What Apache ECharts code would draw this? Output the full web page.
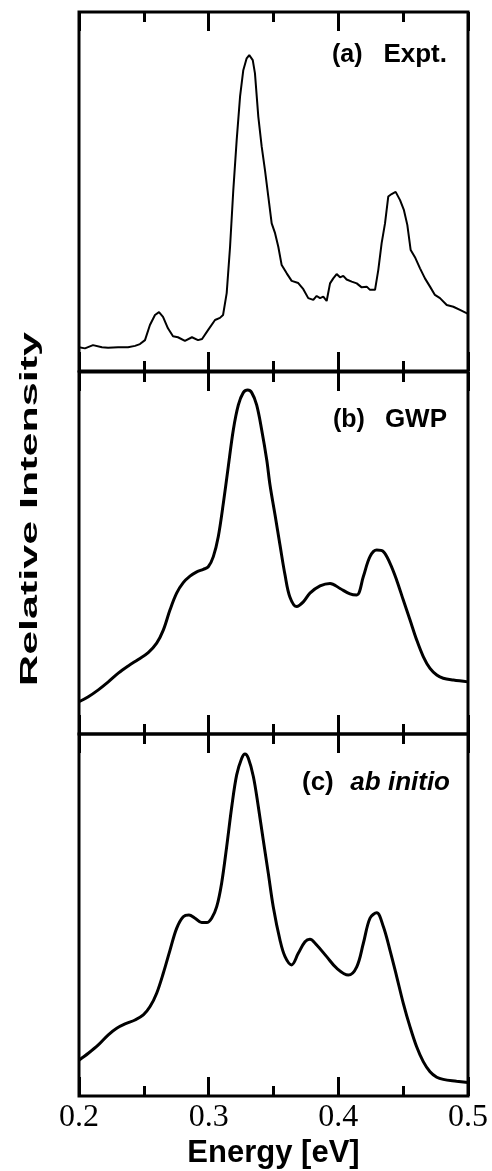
<!DOCTYPE html>
<html>
<head>
<meta charset="utf-8">
<script src="https://cdn.jsdelivr.net/npm/echarts@6/dist/echarts.min.js"></script>
<style>html,body{margin:0;padding:0;background:#fff;}#chart{width:492px;height:1171px;}</style>
</head>
<body>
<div id="chart"></div>
<script>
// ---- data (energy in eV, relative intensity in arbitrary units 0..100 per panel) ----
const xTickLabels = ['0.2', '0.3', '0.4', '0.5'];
const panelLabels = ['(a)', '(b)', '(c)'];
const panelNames = ['Expt.', 'GWP', 'ab initio'];

const energyA = [0.2000, 0.2046, 0.2108, 0.2177, 0.2224, 0.2301, 0.2378, 0.2432, 0.2470, 0.2509, 0.2547, 0.2586, 0.2617, 0.2648, 0.2686, 0.2725, 0.2763, 0.2817, 0.2871, 0.2918, 0.2949, 0.2995, 0.3049, 0.3087, 0.3111, 0.3139, 0.3165, 0.3190, 0.3216, 0.3242, 0.3267, 0.3293, 0.3313, 0.3340, 0.3357, 0.3383, 0.3409, 0.3434, 0.3460, 0.3486, 0.3512, 0.3537, 0.3563, 0.3602, 0.3640, 0.3691, 0.3730, 0.3768, 0.3807, 0.3833, 0.3859, 0.3884, 0.3910, 0.3936, 0.3961, 0.3987, 0.4013, 0.4038, 0.4064, 0.4103, 0.4142, 0.4180, 0.4219, 0.4244, 0.4283, 0.4308, 0.4334, 0.4360, 0.4385, 0.4411, 0.4442, 0.4476, 0.4506, 0.4532, 0.4558, 0.4591, 0.4630, 0.4668, 0.4707, 0.4745, 0.4784, 0.4836, 0.4887, 0.4938, 0.5000];
const intensityA = [6.6, 6.3, 7.2, 6.6, 6.5, 6.6, 6.6, 7.0, 7.5, 8.6, 12.8, 15.6, 16.4, 15.1, 11.9, 9.7, 9.4, 8.4, 9.4, 8.6, 8.9, 11.4, 14.2, 14.8, 15.6, 21.7, 34.6, 50.4, 64.3, 76.4, 83.8, 87.1, 88.0, 86.6, 82.9, 70.8, 62.5, 56.0, 48.6, 41.1, 38.4, 34.6, 29.5, 27.2, 25.1, 24.5, 22.8, 20.3, 19.8, 20.9, 20.3, 20.7, 19.5, 24.4, 25.8, 27.0, 26.1, 26.5, 25.5, 24.9, 24.4, 23.3, 23.5, 22.6, 22.6, 28.1, 35.6, 41.1, 48.6, 49.3, 49.9, 47.6, 44.8, 40.7, 33.7, 31.7, 28.6, 25.8, 23.5, 21.2, 20.3, 18.4, 17.9, 17.0, 15.9];

const energyB = [0.2000, 0.2072, 0.2149, 0.2226, 0.2303, 0.2380, 0.2457, 0.2534, 0.2599, 0.2650, 0.2702, 0.2753, 0.2804, 0.2856, 0.2908, 0.2959, 0.2997, 0.3036, 0.3074, 0.3113, 0.3151, 0.3190, 0.3229, 0.3267, 0.3301, 0.3332, 0.3370, 0.3409, 0.3448, 0.3473, 0.3512, 0.3550, 0.3589, 0.3627, 0.3679, 0.3730, 0.3781, 0.3859, 0.3936, 0.4013, 0.4090, 0.4142, 0.4193, 0.4244, 0.4296, 0.4347, 0.4398, 0.4450, 0.4501, 0.4553, 0.4604, 0.4655, 0.4707, 0.4759, 0.4809, 0.4887, 0.5000];
const intensityB = [8.9, 10.3, 12.2, 14.4, 16.8, 18.8, 20.6, 22.5, 25.1, 28.7, 34.3, 38.9, 41.8, 43.6, 44.8, 45.5, 46.2, 49.0, 54.5, 63.7, 73.8, 84.0, 90.9, 94.3, 95.0, 94.3, 90.9, 84.0, 75.7, 68.8, 60.5, 52.2, 43.9, 37.8, 35.2, 36.5, 38.9, 40.9, 41.6, 40.2, 38.7, 38.4, 43.5, 49.0, 50.8, 50.4, 47.2, 42.5, 37.0, 31.5, 26.0, 21.4, 18.1, 16.3, 15.4, 14.9, 14.4];

const energyC = [0.2000, 0.2072, 0.2149, 0.2226, 0.2291, 0.2355, 0.2432, 0.2496, 0.2548, 0.2599, 0.2650, 0.2702, 0.2753, 0.2804, 0.2848, 0.2895, 0.2946, 0.2985, 0.3023, 0.3062, 0.3100, 0.3139, 0.3178, 0.3216, 0.3255, 0.3280, 0.3306, 0.3345, 0.3383, 0.3421, 0.3460, 0.3498, 0.3550, 0.3589, 0.3640, 0.3691, 0.3743, 0.3781, 0.3833, 0.3910, 0.3987, 0.4077, 0.4142, 0.4193, 0.4244, 0.4296, 0.4347, 0.4398, 0.4450, 0.4501, 0.4553, 0.4604, 0.4655, 0.4707, 0.4759, 0.4809, 0.4912, 0.5000];
const intensityC = [9.9, 11.8, 14.1, 16.9, 18.7, 19.9, 21.0, 22.4, 24.7, 28.4, 33.9, 40.3, 46.3, 49.5, 50.0, 49.1, 47.9, 47.9, 49.1, 52.3, 58.8, 68.9, 79.9, 88.7, 93.3, 94.5, 93.3, 88.2, 79.9, 70.7, 61.5, 52.3, 43.1, 38.5, 36.2, 39.4, 42.6, 43.3, 41.7, 38.5, 35.3, 33.4, 35.7, 42.2, 49.1, 50.6, 46.8, 40.3, 33.0, 25.6, 19.1, 13.6, 9.5, 6.7, 5.2, 4.6, 4.1, 3.7];

// ---- build chart ----
const zip = (xs, ys) => xs.map((x, i) => [x, ys[i]]);
const grids = [
  {left: 79, width: 389, top: 12, height: 359},
  {left: 79, width: 389, top: 372, height: 362},
  {left: 79, width: 389, top: 734, height: 362}
];
const black = '#000';
function xAxisFor(gi, pos, showLabels) {
  return {
    type: 'value', gridIndex: gi, position: pos, min: 0.2, max: 0.5, interval: 0.1,
    axisLine: {show: false},
    axisTick: {show: true, inside: true, length: 19, lineStyle: {color: black, width: 3}},
    minorTick: {show: true, splitNumber: 2, length: 10, lineStyle: {color: black, width: 3}},
    splitLine: {show: false}, minorSplitLine: {show: false},
    axisLabel: {
      show: showLabels, margin: 6, color: black, fontFamily: 'Liberation Serif', fontSize: 32,
      formatter: v => xTickLabels[Math.round((v - 0.2) * 10)]
    },
    name: showLabels ? 'Energy [eV]' : '', nameLocation: 'middle', nameGap: 42,
    nameTextStyle: {color: black, fontFamily: 'Liberation Sans', fontWeight: 'bold', fontSize: 31}
  };
}
const xAxes = [], yAxes = [];
grids.forEach((g, i) => {
  xAxes.push(xAxisFor(i, 'bottom', i === 2));
  xAxes.push(xAxisFor(i, 'top', false));
  yAxes.push({type: 'value', gridIndex: i, min: 0, max: 100, show: false});
});
const seriesData = [zip(energyA, intensityA), zip(energyB, intensityB), zip(energyC, intensityC)];
const series = seriesData.map((d, i) => ({
  type: 'line', xAxisIndex: i * 2, yAxisIndex: i, data: d, showSymbol: false, symbol: 'none',
  smooth: i === 0 ? false : 0.35,
  lineStyle: {color: black, width: i === 0 ? 2 : 3}, animation: false
}));

const labelFont = (size, italic) => (italic ? 'italic ' : '') + 'bold ' + size + 'px "Liberation Sans", Arial, sans-serif';
function txt(text, x, y, align, size, italic) {
  return {type: 'text', x: x, y: y, silent: true,
    style: {text: text, font: labelFont(size, italic), fill: black, align: align, verticalAlign: 'middle', textAlign: align, textVerticalAlign: 'middle'}};
}
const graphics = [
  {type: 'text', x: 31, y: 509, rotation: Math.PI / 2, scaleX: 1.87, silent: true,
   style: {text: 'Relative Intensity', font: labelFont(23, false), fill: black, align: 'center', verticalAlign: 'middle', textAlign: 'center', textVerticalAlign: 'middle'}},
  txt(panelLabels[0], 332, 55, 'left', 25, false),
  txt(panelNames[0], 447, 55, 'right', 26, false),
  txt(panelLabels[1], 333, 420, 'left', 25, false),
  txt(panelNames[1], 447, 420, 'right', 26, false),
  txt(panelLabels[2], 302, 783, 'left', 26, false),
  txt(panelNames[2], 450, 783, 'right', 26, true)
];

const chart = echarts.init(document.getElementById('chart'), null, {renderer: 'canvas'});
chart.setOption({
  animation: false,
  backgroundColor: '#fff',
  grid: grids.map(g => Object.assign({show: true, borderColor: black, borderWidth: 3, backgroundColor: 'transparent', containLabel: false}, g)),
  xAxis: xAxes,
  yAxis: yAxes,
  series: series,
  graphic: graphics
});
</script>
</body>
</html>
